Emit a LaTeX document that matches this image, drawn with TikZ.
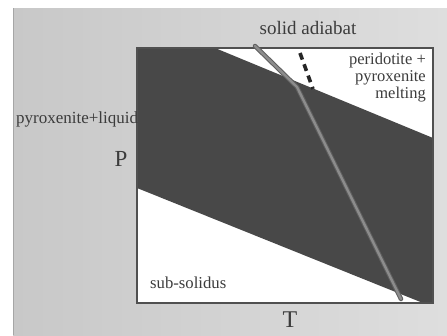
\documentclass[tikz,border=0pt]{standalone}
\usepackage{fontspec}
\setmainfont{Liberation Serif}
\definecolor{bgL}{RGB}{200,200,200}
\definecolor{bgR}{RGB}{222,222,222}
\definecolor{band}{RGB}{72,72,72}
\definecolor{frame}{RGB}{80,80,80}
\definecolor{adiab}{RGB}{140,140,140}
\definecolor{adiabedge}{RGB}{95,95,95}
\definecolor{txt}{RGB}{60,60,60}
\begin{document}
\begin{tikzpicture}[x=1pt,y=-1pt,
  lbl/.style={inner sep=0pt,text=txt},
  adiabline/.style={line width=4.5pt,draw=adiabedge,line cap=round},
  adiabcore/.style={line width=2.4pt,draw=adiab,line cap=round},
  dashline/.style={line width=3.6pt,draw=black!85,dash pattern=on 7pt off 5pt}]
\useasboundingbox (0,0) rectangle (447,335);
% background
\fill[white] (0,0) rectangle (447,335);
\shade[left color=bgL,right color=bgR] (13,8) rectangle (447,335);
\draw[gray!70,line width=1pt] (13,8) -- (13,335);
% corners
\coordinate (tl) at (137,48);
\coordinate (tr) at (433,48);
\coordinate (br) at (433,303);
\coordinate (bl) at (137,303);
\coordinate (u1) at (215,48);
\coordinate (u2) at (433,138);
\coordinate (l1) at (137,188);
\coordinate (l2) at (423,303);
\fill[white] (tl) rectangle (br);
\fill[band] (tl) -- (u1) -- (u2) -- (br) -- (l2) -- (l1) -- cycle;
\draw[frame,line width=1.6pt] (tl) rectangle (br);
% adiabat
\coordinate (a1) at (255,46);
\coordinate (a2) at (297,87);
\coordinate (a3) at (401,299);
\draw[adiabline] (a1) -- (a2) -- (a3);
\draw[adiabcore] (a1) -- (a2) -- (a3);
% dashed
\coordinate (d1) at (300,53);
\coordinate (d2) at (313,89);
\draw[dashline] (d1) -- (d2);
% labels
\node[lbl,anchor=base,font=\fontsize{19}{19}\selectfont] (sa) at (308,34) {solid adiabat};
\node[lbl,anchor=base east,font=\fontsize{16.5}{16.5}\selectfont] (m1) at (426,64) {peridotite +};
\node[lbl,anchor=base east,font=\fontsize{16.5}{16.5}\selectfont] (m2) at (426,81) {pyroxenite};
\node[lbl,anchor=base east,font=\fontsize{16.5}{16.5}\selectfont] (m3) at (426,98) {melting};
\node[lbl,anchor=base west,font=\fontsize{17}{17}\selectfont] (pl) at (16,123) {pyroxenite+liquid};
\node[lbl,anchor=base,font=\fontsize{23}{23}\selectfont] (P) at (121,166) {P};
\node[lbl,anchor=base west,font=\fontsize{16.7}{16.7}\selectfont] (ss) at (150,288) {sub-solidus};
\node[lbl,anchor=base,font=\fontsize{24}{24}\selectfont] (T) at (290,327) {T};
\end{tikzpicture}
\end{document}
